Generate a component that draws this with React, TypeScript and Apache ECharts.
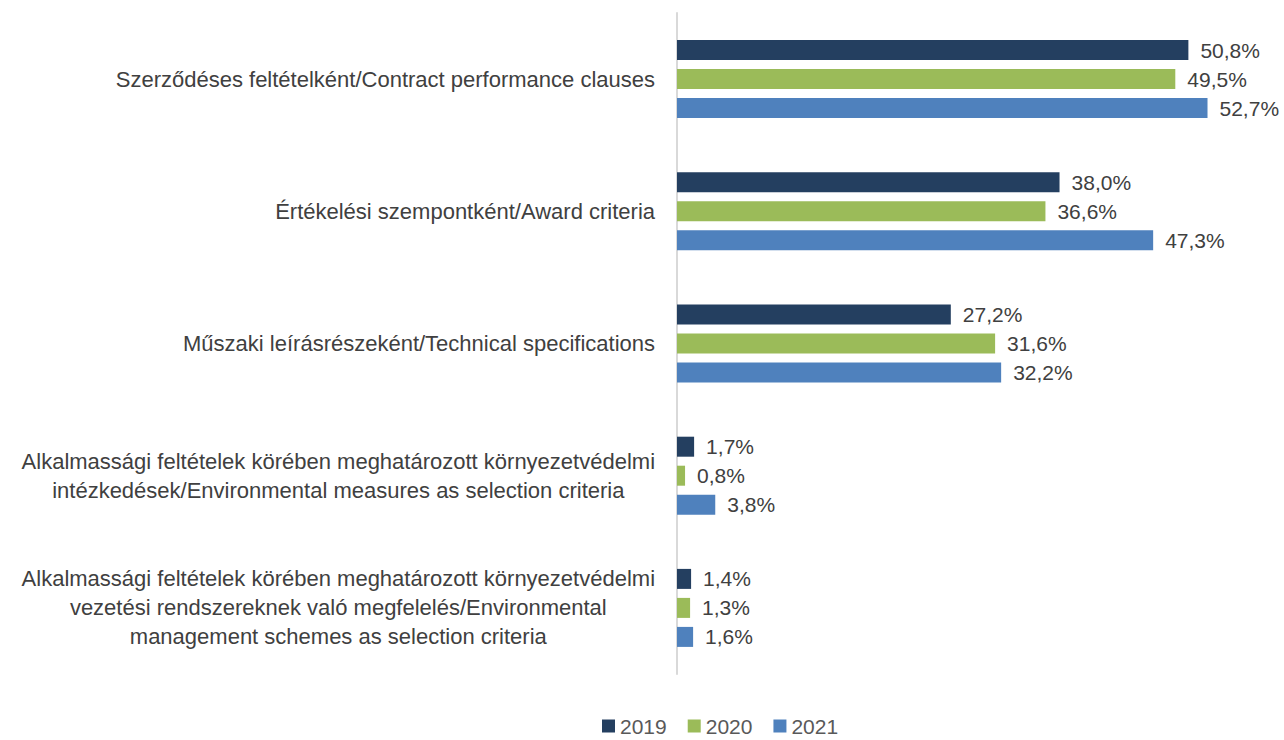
import React, { useEffect, useRef } from "react";
import * as echarts from "echarts";

const categories: string[] = [
  "Szerződéses feltételként/Contract performance clauses",
  "Értékelési szempontként/Award criteria",
  "Műszaki leírásrészeként/Technical specifications",
  "Alkalmassági feltételek körében meghatározott környezetvédelmi\nintézkedések/Environmental measures as selection criteria",
  "Alkalmassági feltételek körében meghatározott környezetvédelmi\nvezetési rendszereknek való megfelelés/Environmental\nmanagement schemes as selection criteria",
];
const seriesNames: string[] = ["2019", "2020", "2021"];
const values2019: number[] = [50.8, 38.0, 27.2, 1.7, 1.4];
const values2020: number[] = [49.5, 36.6, 31.6, 0.8, 1.3];
const values2021: number[] = [52.7, 47.3, 32.2, 3.8, 1.6];
const colors: string[] = ["#243F60", "#9BBB59", "#4F81BD"];

const FONT = "Liberation Sans";

export default function App() {
  const ref = useRef<HTMLDivElement>(null);
  useEffect(() => {
    document.body.style.margin = "0";
    if (!ref.current) return;
    const chart = echarts.init(ref.current, null, { renderer: "svg" });
    const data = [values2019, values2020, values2021];
    chart.setOption({
      animation: false,
      textStyle: { fontFamily: FONT },
      grid: { left: 677, top: 13, width: 604, height: 661 },
      legend: {
        data: seriesNames,
        left: 597,
        top: 710,
        icon: "rect",
        itemWidth: 13,
        itemHeight: 13,
        itemGap: 21,
        textStyle: { fontSize: 21, lineHeight: 22, color: "#595959", fontFamily: FONT },
      },
      xAxis: {
        type: "value",
        min: 0,
        max: 60,
        show: false,
      },
      yAxis: {
        type: "category",
        data: categories,
        inverse: true,
        axisLine: { show: true, lineStyle: { color: "#D9D9D9", width: 2 } },
        axisTick: { show: false },
        splitLine: { show: false },
        axisLabel: {
          margin: 22,
          formatter: (v: string) =>
            v
              .split("\n")
              .map((l) => `{c|${l}}`)
              .join("\n"),
          rich: {
            c: {
              align: "center",
              fontSize: 22,
              lineHeight: 29,
              color: "#404040",
              fontFamily: FONT,
            },
          },
        },
      },
      series: seriesNames.map((name, i) => ({
        name,
        type: "bar",
        data: data[i],
        barWidth: 20,
        barGap: "45%",
        itemStyle: { color: colors[i] },
        label: {
          show: true,
          position: "right",
          distance: 12,
          fontSize: 21,
          color: "#404040",
          fontFamily: FONT,
          formatter: (p: any) => p.value.toFixed(1).replace(".", ",") + "%",
        },
      })),
    });
    return () => chart.dispose();
  }, []);
  return <div ref={ref} style={{ width: 1284, height: 740 }} />;
}
